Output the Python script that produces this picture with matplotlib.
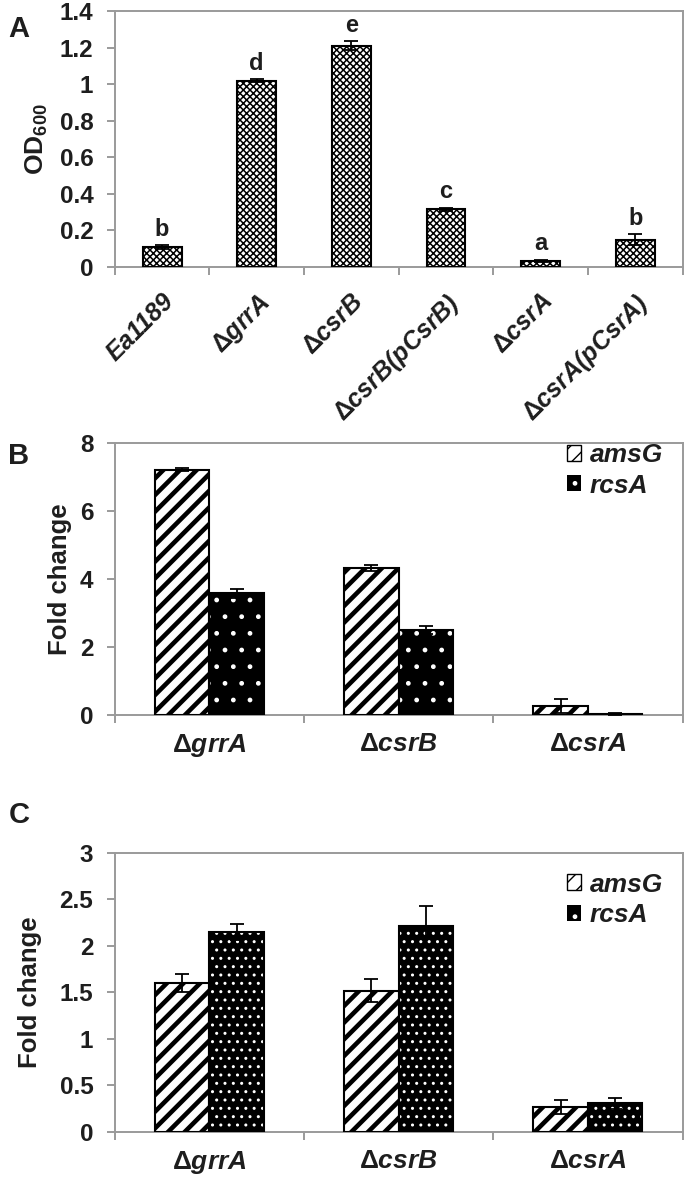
import matplotlib
matplotlib.use("Agg")
import matplotlib.pyplot as plt
from matplotlib.patches import Patch
import numpy as np

plt.rcParams['font.family'] = ['Liberation Sans', 'DejaVu Sans']
plt.rcParams['font.weight'] = 'bold'
plt.rcParams['mathtext.fontset'] = 'custom'
plt.rcParams['mathtext.rm'] = 'Liberation Sans'
plt.rcParams['mathtext.bf'] = 'Liberation Sans:bold'
plt.rcParams['mathtext.it'] = 'Liberation Sans:bold:italic'

# panel A: OD600
strains_a = [r"Ea1189", r"$\Delta$grrA", r"$\Delta$csrB", r"$\Delta$csrB(pCsrB)",
             r"$\Delta$csrA", r"$\Delta$csrA(pCsrA)"]
od600 = [0.11, 1.02, 1.21, 0.315, 0.035, 0.15]
od600_err = [0.01, 0.008, 0.025, 0.01, 0.005, 0.03]
letters_a = ["b", "d", "e", "c", "a", "b"]

# panels B and C: fold change
strains_bc = [r"$\Delta$grrA", r"$\Delta$csrB", r"$\Delta$csrA"]
genes = ["amsG", "rcsA"]
b_amsg = [7.22, 4.33, 0.26]
b_amsg_err = [0.05, 0.08, 0.2]
b_rcsa = [3.58, 2.5, 0.03]
b_rcsa_err = [0.14, 0.12, 0.04]
c_amsg = [1.6, 1.52, 0.265]
c_amsg_err = [0.095, 0.12, 0.075]
c_rcsa = [2.15, 2.22, 0.31]
c_rcsa_err = [0.085, 0.21, 0.06]

SPINE = '#9a9a9a'
TXT = '#1e1e1e'


def style_axes(ax, n):
    for s in ax.spines.values():
        s.set_color(SPINE)
        s.set_linewidth(1.4)
    ax.set_xlim(-0.5, n - 0.5)
    ax.set_xticks(np.arange(n))
    ax.tick_params(axis='x', which='major', length=0, pad=12)
    ax.set_xticks(np.arange(n + 1) - 0.5, minor=True)
    ax.tick_params(axis='x', which='minor', length=5.5, width=1.4, color=SPINE)
    ax.tick_params(axis='y', length=5.5, width=1.4, color=SPINE, labelsize=17.5,
                   labelcolor=TXT, pad=10)
    for lab in ax.get_yticklabels():
        lab.set_fontweight('bold')


def hatched_bars(ax, x, h, err, w, face, hatch, hcolor, hlw):
    with plt.rc_context({'hatch.linewidth': hlw}):
        bars = ax.bar(x, h, w, color=face, edgecolor=hcolor, hatch=hatch,
                      linewidth=0, zorder=2)
    for p in bars:
        if hasattr(p, 'set_hatch_linewidth'):
            p.set_hatch_linewidth(hlw)
    ax.bar(x, h, w, fill=False, edgecolor='black', linewidth=1.5, zorder=3)
    ax.errorbar(x, h, yerr=err, fmt='none', ecolor='black', elinewidth=1.3,
                capsize=5, capthick=1.3, zorder=4)


fig = plt.figure(figsize=(7, 11.79), dpi=100)
axA = fig.add_axes([0.164, 0.7735, 0.811, 0.217])
axB = fig.add_axes([0.164, 0.3935, 0.811, 0.2307])
axC = fig.add_axes([0.164, 0.0399, 0.811, 0.2366])

# ---- A
xa = np.arange(len(strains_a))
hatched_bars(axA, xa, od600, od600_err, 0.41, 'white', 'xxxxx', 'black', 1.1)
for i in range(len(xa)):
    axA.text(xa[i], od600[i] + od600_err[i] + 0.025, letters_a[i], ha='center',
             va='bottom', fontsize=17, fontweight='bold', color=TXT)
style_axes(axA, len(strains_a))
axA.tick_params(axis='x', which='major', pad=16)
axA.set_ylim(0, 1.4)
axA.set_yticks(np.arange(0, 1.41, 0.2))
axA.set_yticklabels(["0", "0.2", "0.4", "0.6", "0.8", "1", "1.2", "1.4"])
axA.set_xticklabels(strains_a, rotation=45, ha='right', rotation_mode='anchor',
                    fontsize=18, fontstyle='italic', fontweight='bold', color=TXT)
axA.set_ylabel(r'$\mathbf{OD_{600}}$', fontsize=19, color=TXT)
axA.yaxis.set_label_coords(-0.114, 0.5)

# ---- B and C
xb = np.arange(len(strains_bc))
bw = 0.288
for ax, am, ame, rc, rce, top, step, lab_x, leg_y in [
        (axB, b_amsg, b_amsg_err, b_rcsa, b_rcsa_err, 8, 2, -0.076, 1.0),
        (axC, c_amsg, c_amsg_err, c_rcsa, c_rcsa_err, 3, 0.5, -0.128, 0.93)]:
    hatched_bars(ax, xb - bw / 2, am, ame, bw, 'white', '//', 'black', 3.3)
    hatched_bars(ax, xb + bw / 2, rc, rce, bw, 'black',
                 '.' if ax is axB else '..', 'white', 1.0)
    style_axes(ax, len(strains_bc))
    ax.set_ylim(0, top)
    ticks = np.arange(0, top + 0.01, step)
    ax.set_yticks(ticks)
    ax.set_yticklabels([f"{t:g}" for t in ticks])
    ax.set_xticklabels(strains_bc, fontsize=19, fontstyle='italic',
                       fontweight='bold', color=TXT)
    ax.set_ylabel("Fold change", fontsize=18.5, fontweight='bold', color=TXT)
    ax.yaxis.set_label_coords(lab_x, 0.5)
    handles = [Patch(facecolor='white', edgecolor='black', hatch='//', linewidth=1),
               Patch(facecolor='black', edgecolor='white', hatch='.', linewidth=0)]
    leg = ax.legend(handles, genes, loc='upper right', frameon=False,
                    bbox_to_anchor=(0.965, leg_y), borderpad=0, borderaxespad=0,
                    handlelength=0.55, handleheight=0.55, handletextpad=0.3,
                    labelspacing=0.25,
                    prop={'size': 19, 'weight': 'bold', 'style': 'italic'})
    for t in leg.get_texts():
        t.set_color(TXT)

fig.text(0.012, 0.975, "A", fontsize=21, fontweight='bold', color=TXT, va='center')
fig.text(0.012, 0.613, "B", fontsize=21, fontweight='bold', color=TXT, va='center')
fig.text(0.012, 0.309, "C", fontsize=21, fontweight='bold', color=TXT, va='center')

fig.savefig("out.png", dpi=100)
